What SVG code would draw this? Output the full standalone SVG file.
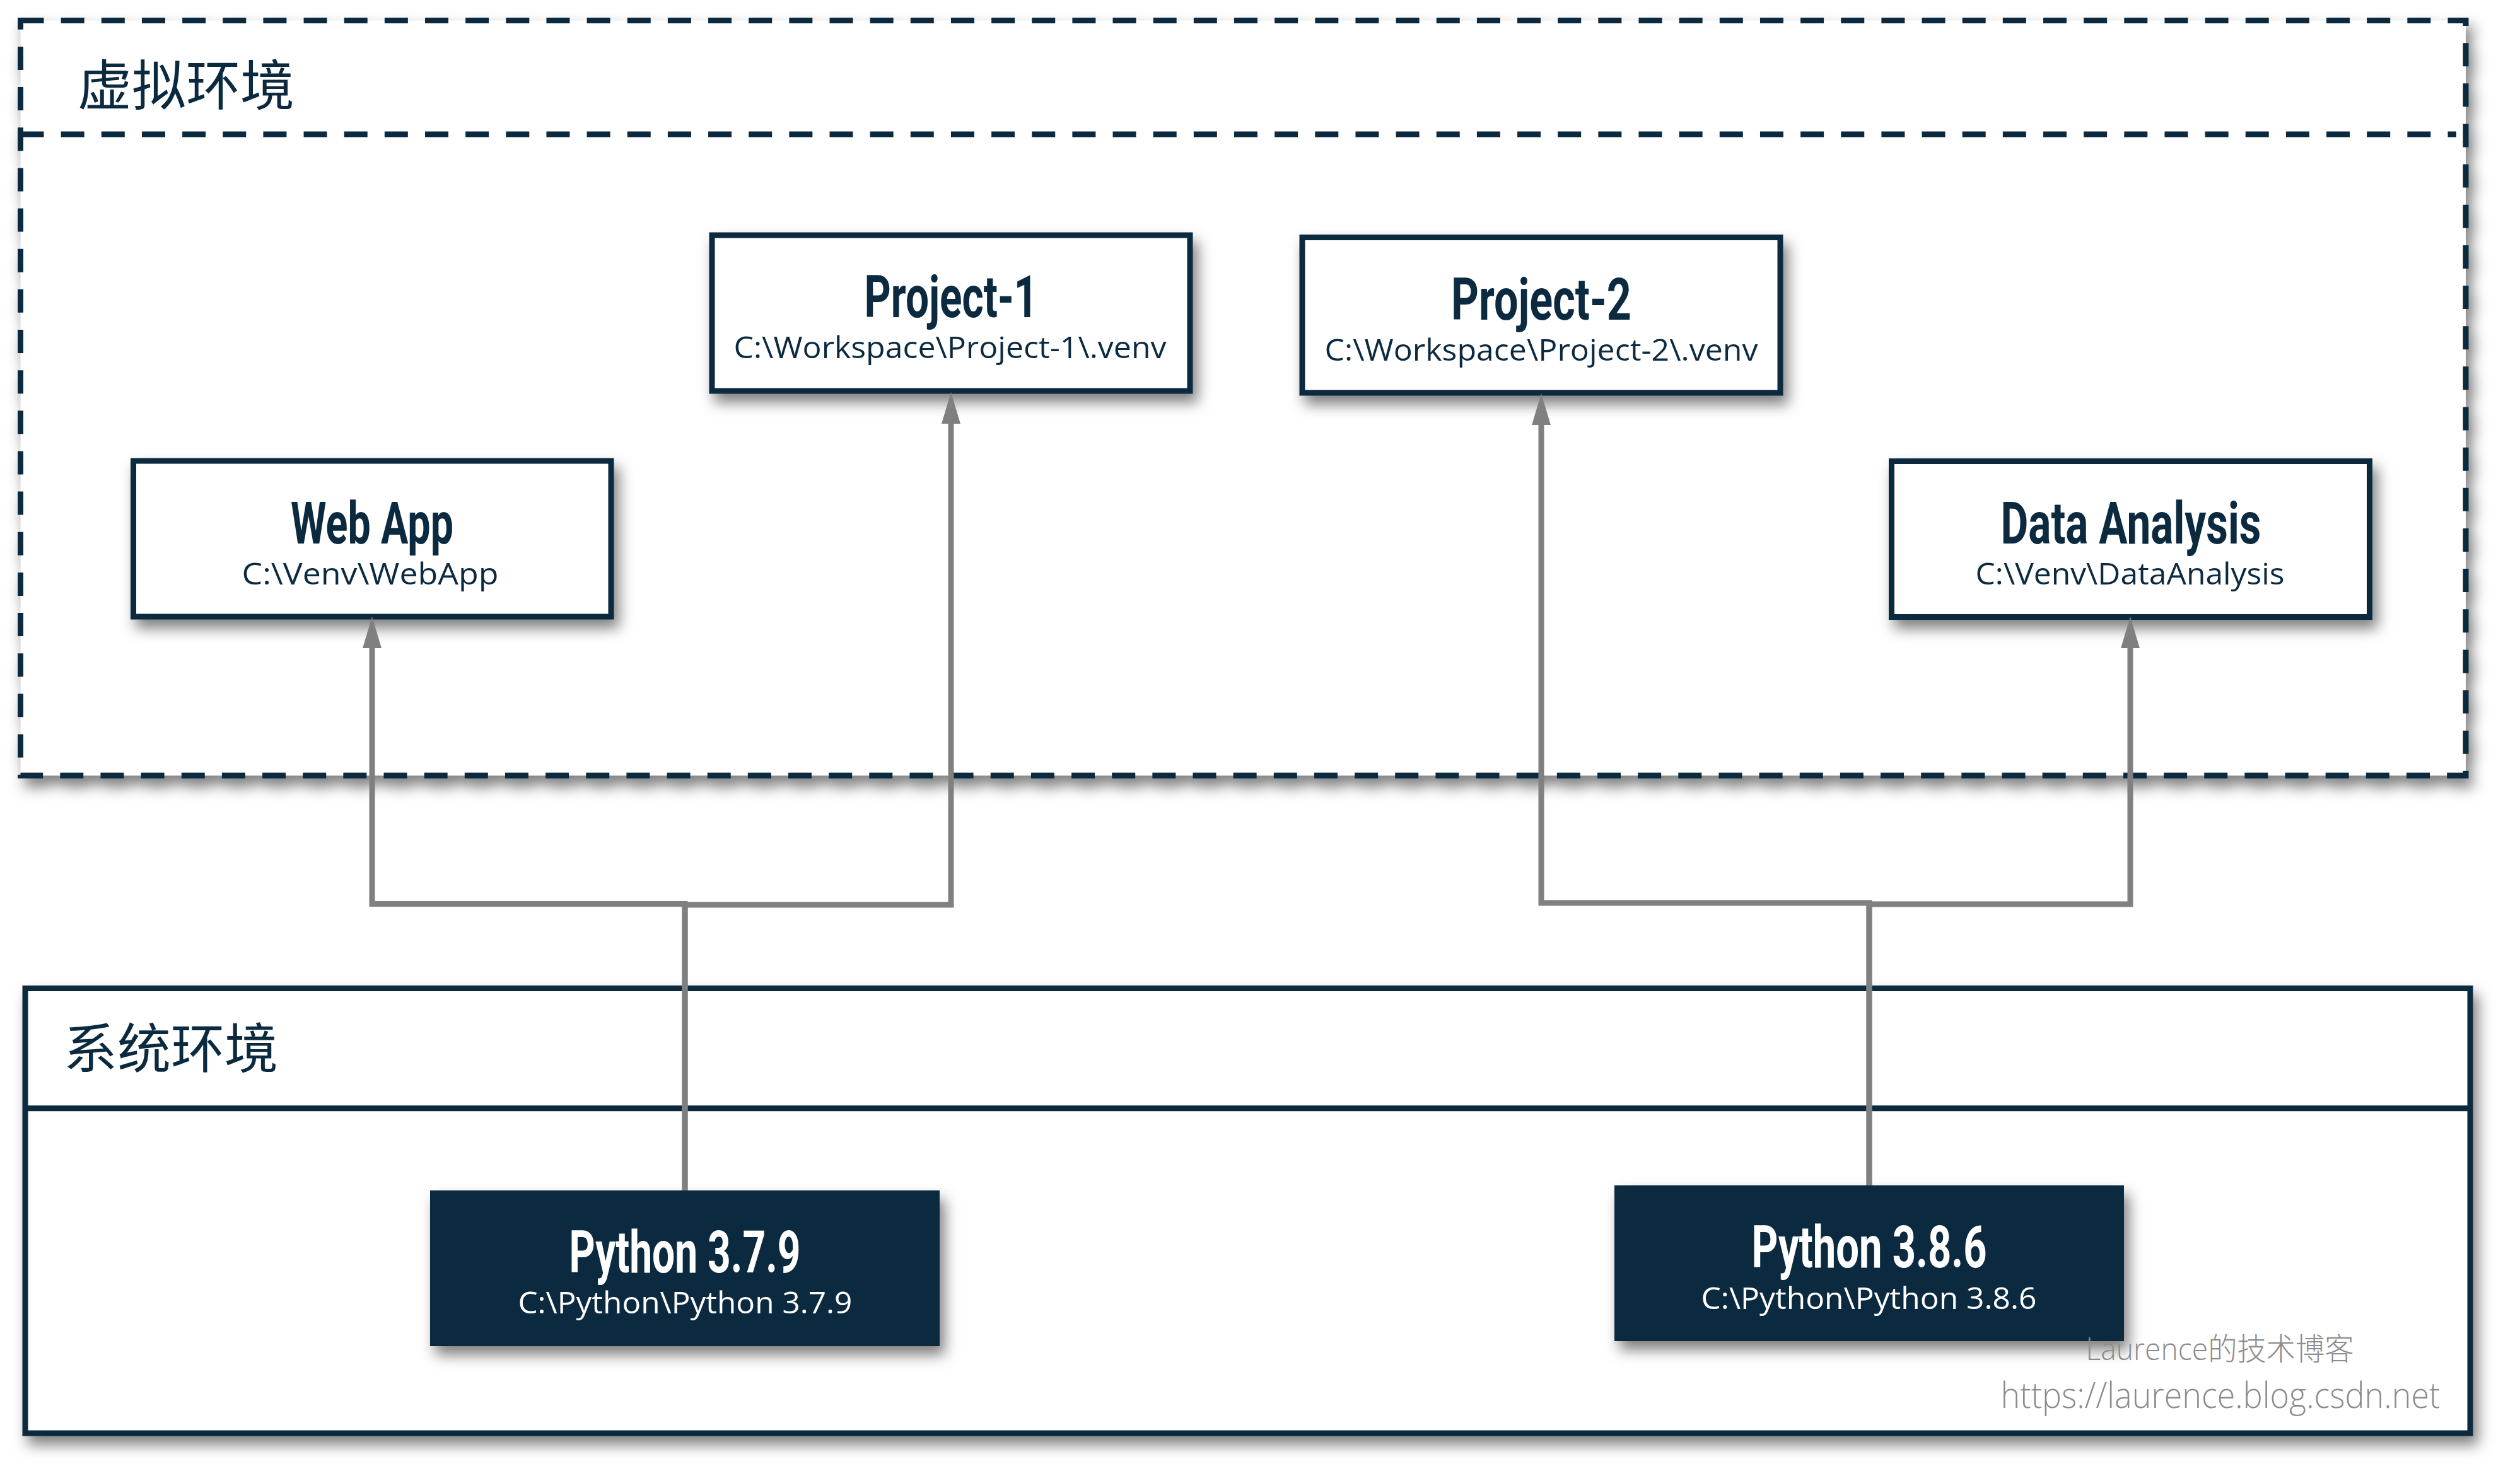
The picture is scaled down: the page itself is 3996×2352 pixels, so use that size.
<svg xmlns="http://www.w3.org/2000/svg" width="3996" height="2352" viewBox="0 0 3996 2352">
  <defs>
    <filter id="sh" x="-5%" y="-10%" width="112%" height="130%" color-interpolation-filters="sRGB">
      <feDropShadow dx="8" dy="14" stdDeviation="11" flood-color="#000" flood-opacity="0.5"/>
    </filter>
    <marker id="arr" markerUnits="userSpaceOnUse" markerWidth="50" markerHeight="30" viewBox="0 0 50 30" refX="5" refY="15" orient="auto">
      <path d="M0,0 L50,15 L0,30 Z" fill="#808080"/>
    </marker>
    <style>
      .frame { fill: #ffffff; stroke: #0b2a40; stroke-width: 9; }
      .dash { stroke-dasharray: 37 27.15; }
      .node { fill: #ffffff; stroke: #0b2a40; stroke-width: 9; }
      .dark { fill: #0b2a40; }
      .title { font-family: "Roboto", "Liberation Sans", sans-serif; font-weight: 700; font-size: 92px; fill: #0b2a40; text-anchor: middle; }
      .sub { font-family: "Open Sans", "Noto Sans", sans-serif; font-size: 47px; fill: #0b2a40; text-anchor: middle; }
      .white { fill: #ffffff; }
      .cjk { font-family: "Noto Sans CJK SC", sans-serif; font-size: 86px; fill: #0b2a40; }
      .conn { fill: none; stroke: #808080; stroke-width: 9; }
      .wm { font-family: "Open Sans", "Noto Sans CJK SC", sans-serif; font-weight: 300; fill: #8c8c8c; text-anchor: middle; }
    </style>
  </defs>
  <rect x="0" y="0" width="3996" height="2352" fill="#ffffff"/>

  <g id="virtual-env">
    <rect class="frame dash" x="32.5" y="32.5" width="3877.5" height="1197.5" filter="url(#sh)"/>
    <line class="dash" x1="32.5" y1="213" x2="3895" y2="213" stroke="#0b2a40" stroke-width="9"/>
    <text class="cjk" x="123" y="167">虚拟环境</text>
  </g>

  <g id="system-env">
    <rect class="frame" x="40" y="1567.5" width="3877" height="705.5" filter="url(#sh)"/>
    <line x1="40" y1="1757.7" x2="3917" y2="1757.7" stroke="#0b2a40" stroke-width="9"/>
    <text class="cjk" x="101" y="1694" style="font-size:85px">系统环境</text>
  </g>

  <g id="web-app">
    <rect class="node" x="211.5" y="731" width="757.5" height="247" filter="url(#sh)"/>
    <text class="title" x="590" y="861.7" textLength="258" lengthAdjust="spacingAndGlyphs">Web App</text>
    <text class="sub" x="587" y="926.7" textLength="407" lengthAdjust="spacingAndGlyphs">C:\Venv\WebApp</text>
  </g>

  <g id="project-1">
    <rect class="node" x="1129" y="373" width="758" height="247" filter="url(#sh)"/>
    <text class="title" x="1508" y="503" textLength="275" lengthAdjust="spacingAndGlyphs">Project-1</text>
    <text class="sub" x="1506.5" y="568" textLength="686" lengthAdjust="spacingAndGlyphs">C:\Workspace\Project-1\.venv</text>
  </g>

  <g id="project-2">
    <rect class="node" x="2065" y="376.5" width="758" height="246.5" filter="url(#sh)"/>
    <text class="title" x="2444" y="506.7" textLength="286" lengthAdjust="spacingAndGlyphs">Project-2</text>
    <text class="sub" x="2444" y="571.5" textLength="687" lengthAdjust="spacingAndGlyphs">C:\Workspace\Project-2\.venv</text>
  </g>

  <g id="data-analysis">
    <rect class="node" x="2999.5" y="731.5" width="758" height="247" filter="url(#sh)"/>
    <text class="title" x="3379" y="861.7" textLength="413" lengthAdjust="spacingAndGlyphs">Data Analysis</text>
    <text class="sub" x="3377.5" y="926.7" textLength="490" lengthAdjust="spacingAndGlyphs">C:\Venv\DataAnalysis</text>
  </g>

  <g id="python-379">
    <rect class="dark" x="682" y="1888" width="808" height="247" filter="url(#sh)"/>
    <text class="title white" x="1086" y="2017.5" textLength="367" lengthAdjust="spacingAndGlyphs">Python 3.7.9</text>
    <text class="sub white" x="1086.4" y="2083" textLength="530" lengthAdjust="spacingAndGlyphs">C:\Python\Python 3.7.9</text>
  </g>

  <g id="python-386">
    <rect class="dark" x="2560" y="1880" width="808" height="247" filter="url(#sh)"/>
    <text class="title white" x="2964" y="2010.2" textLength="373" lengthAdjust="spacingAndGlyphs">Python 3.8.6</text>
    <text class="sub white" x="2963.5" y="2075.5" textLength="532" lengthAdjust="spacingAndGlyphs">C:\Python\Python 3.8.6</text>
  </g>

  <g id="connectors">
    <path class="conn" d="M1086,1888 V1433.5 H590 V1023" marker-end="url(#arr)"/>
    <path class="conn" d="M1086,1888 V1435 H1508 V667" marker-end="url(#arr)"/>
    <path class="conn" d="M2964,1880 V1432 H2444 V669" marker-end="url(#arr)"/>
    <path class="conn" d="M2964,1880 V1434 H3378 V1023" marker-end="url(#arr)"/>
  </g>

  <g id="watermark">
    <text class="wm" x="3520" y="2157" style="font-size:49px" textLength="425" lengthAdjust="spacingAndGlyphs">Laurence的技术博客</text>
    <text class="wm" x="3521" y="2233" style="font-size:57px" textLength="697" lengthAdjust="spacingAndGlyphs">https://laurence.blog.csdn.net</text>
  </g>
</svg>
